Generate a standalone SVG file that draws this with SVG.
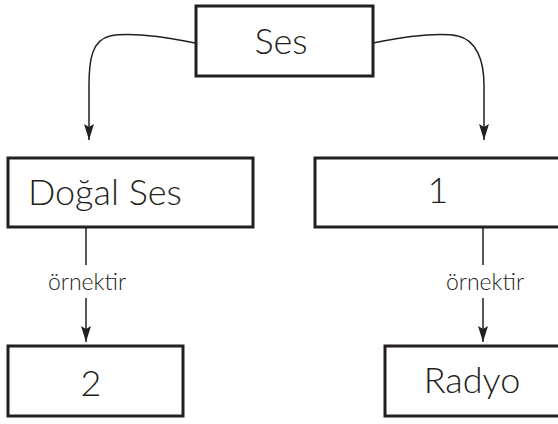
<svg xmlns="http://www.w3.org/2000/svg" width="558" height="424" viewBox="0 0 558 424">
<style>
.box{fill:#fff;stroke:#231f20;stroke-width:3}
.lbl{font-family:Lato,"Liberation Sans",sans-serif;font-weight:300;fill:#231f20}
.big{font-size:36px}
.small{font-size:23px}
.conn{fill:none;stroke:#231f20;stroke-width:1.5}
</style>
<defs>
<marker id="ah" viewBox="0 0 16 10" refX="16" refY="5" markerWidth="16" markerHeight="10" markerUnits="userSpaceOnUse" orient="auto">
<path d="M0,0 L3,5 L0,10 L16,5 Z" fill="#231f20"/>
</marker>
</defs>
<g id="connectors">
<path class="conn" d="M195,43 C160,36 130,32 110,36 C92,40 89,60 89,85 L89,140" marker-end="url(#ah)"/>
<path class="conn" d="M373,43 C408,36 438,32 458,36 C476,40 484,60 484,85 L484,140" marker-end="url(#ah)"/>
<path class="conn" d="M86,228 L86,265"/>
<path class="conn" d="M86,298 L86,342" marker-end="url(#ah)"/>
<path class="conn" d="M483,228 L483,265"/>
<path class="conn" d="M483,298 L483,342" marker-end="url(#ah)"/>
<text class="lbl small" x="87" y="290" text-anchor="middle">örnektir</text>
<text class="lbl small" x="485" y="290" text-anchor="middle">örnektir</text>
</g>
<g id="node-ses">
<rect class="box" x="196" y="6" width="177" height="70"/>
<text class="lbl big" x="281" y="54" text-anchor="middle">Ses</text>
</g>
<g id="node-dogal">
<rect class="box" x="8" y="158" width="245" height="69"/>
<text class="lbl big" x="28" y="205">Doğal Ses</text>
</g>
<g id="node-1">
<rect class="box" x="315" y="158" width="250" height="69"/>
<text class="lbl big" x="438" y="203" text-anchor="middle">1</text>
</g>
<g id="node-2">
<rect class="box" x="8" y="346" width="175" height="70"/>
<text class="lbl big" x="91" y="396" text-anchor="middle">2</text>
</g>
<g id="node-radyo">
<rect class="box" x="385" y="346" width="180" height="70"/>
<text class="lbl big" x="472" y="393" text-anchor="middle">Radyo</text>
</g>
</svg>
